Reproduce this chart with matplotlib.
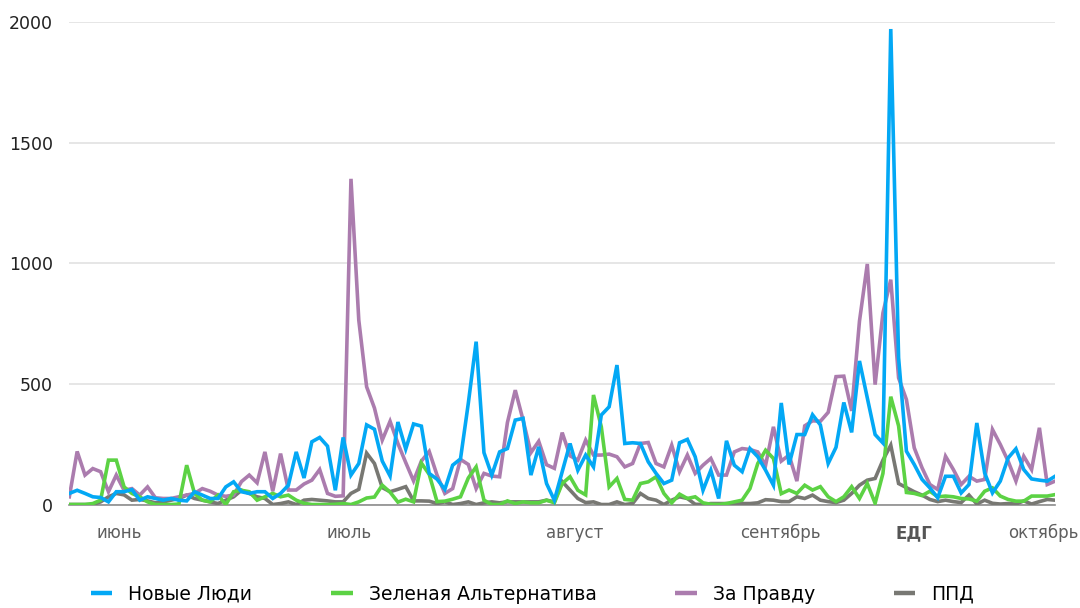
import numpy as np
import matplotlib
matplotlib.use("Agg")
import matplotlib.pyplot as plt

plt.rcParams['font.family'] = ['DejaVu Sans']

# daily values (index = day)
novye_lyudi = [46, 59, 46, 32, 29, 11, 53, 53, 62, 18, 32, 25, 18, 25, 18, 15, 53, 39, 25, 25,
               73, 94, 53, 46, 53, 53, 25, 46, 80, 218, 110, 260, 278, 242, 59, 278, 122, 170, 330, 312,
               180, 118, 342, 230, 334, 325, 129, 105, 63, 163, 189, 420, 675, 215, 122, 218, 232, 350, 357, 122,
               239, 87, 18, 136, 253, 142, 205, 156, 371, 405, 578, 253, 256, 253, 177, 129, 87, 101, 256, 270,
               198, 59, 142, 25, 264, 163, 136, 232, 198, 142, 80, 421, 166, 290, 290, 372, 330, 170, 237, 423,
               299, 595, 442, 290, 255, 1971, 608, 221, 166, 104, 69, 28, 117, 117, 48, 83, 338, 131, 48, 97,
               193, 231, 145, 106, 101, 97, 117]
zelenaya = [0, 0, 0, 4, 18, 184, 184, 73, 46, 32, 11, 0, 0, 0, 2, 163, 46, 18, 11, 39,
            0, 53, 59, 53, 18, 32, 46, 32, 39, 18, 5, 0, 0, 0, 1, 4, 0, 11, 27, 31,
            80, 51, 10, 22, 11, 172, 125, 12, 14, 22, 32, 110, 156, 18, 0, 0, 15, 4, 11, 7,
            7, 18, 7, 87, 115, 59, 40, 454, 322, 73, 108, 21, 18, 87, 94, 115, 46, 7, 43, 25,
            32, 7, 1, 0, 4, 11, 18, 66, 170, 225, 191, 45, 60, 46, 80, 60, 74, 32, 12, 32,
            74, 25, 87, 5, 129, 447, 326, 50, 46, 37, 55, 32, 35, 32, 25, 23, 14, 55, 69, 35,
            21, 14, 14, 35, 35, 35, 41]
za_pravdu = [32, 220, 122, 149, 136, 53, 122, 59, 66, 39, 73, 28, 25, 25, 32, 39, 46, 66, 55, 39,
             34, 39, 95, 122, 90, 218, 55, 211, 60, 60, 85, 101, 145, 46, 34, 36, 1350, 764, 488, 400,
             267, 345, 253, 174, 98, 180, 220, 122, 46, 66, 187, 166, 66, 129, 118, 115, 340, 474, 350, 215,
             262, 165, 150, 298, 202, 184, 267, 205, 205, 209, 198, 156, 170, 253, 257, 170, 156, 246, 136, 205,
             129, 163, 191, 122, 122, 218, 232, 228, 218, 163, 322, 180, 205, 97, 326, 347, 345, 382, 530, 532,
             388, 760, 997, 497, 794, 932, 525, 435, 235, 152, 83, 62, 200, 145, 83, 117, 97, 104, 311, 249,
             180, 97, 200, 145, 318, 83, 97]
ppd = [0, 0, 0, 0, 11, 32, 46, 40, 18, 21, 15, 7, 11, 18, 25, 39, 25, 18, 11, 4,
       18, 32, 59, 46, 32, 25, 0, 4, 11, 0, 18, 21, 18, 15, 11, 11, 46, 63, 213, 170,
       70, 53, 63, 74, 15, 15, 14, 4, 11, 0, 4, 11, 0, 7, 11, 7, 11, 11, 11, 11,
       11, 18, 11, 95, 60, 25, 8, 11, 0, 0, 11, 0, 4, 46, 25, 18, 0, 18, 32, 25,
       1, 0, 4, 4, 4, 4, 4, 4, 7, 20, 18, 12, 12, 32, 25, 39, 18, 12, 8, 18,
       46, 80, 101, 108, 184, 246, 87, 70, 53, 39, 21, 12, 18, 12, 8, 39, 2, 18, 5, 2,
       4, 2, 15, 2, 12, 21, 18]

month_labels = ["июнь", "июль", "август", "сентябрь", "ЕДГ", "октябрь"]
month_pos = [6.4, 35.8, 64.6, 90.9, 108.0, 124.5]

series = [
    ("ППД", ppd, "#787873"),
    ("За Правду", za_pravdu, "#ab7cae"),
    ("Зеленая Альтернатива", zelenaya, "#5cd244"),
    ("Новые Люди", novye_lyudi, "#03a8f5"),
]

fig = plt.figure(figsize=(10.8, 6.08), dpi=100)
ax = fig.add_axes([0.0642, 0.1702, 0.9127, 0.7936])

x = np.arange(len(novye_lyudi))
lines = {}
for name, vals, col in series:
    ln, = ax.plot(x, vals, color=col, lw=2.6, solid_joinstyle='miter', label=name)
    lines[name] = ln

ax.set_xlim(0, len(x) - 1)
ax.set_ylim(0, 2000)
ax.set_yticks([0, 500, 1000, 1500, 2000])
ax.grid(axis='y', color='#e2e2e2', lw=1.2)
ax.set_axisbelow(True)
for s in ['top', 'right', 'left']:
    ax.spines[s].set_visible(False)
ax.spines['bottom'].set_color('#8c8c8c')
ax.spines['bottom'].set_linewidth(1.2)
ax.spines['bottom'].set_zorder(1)

ax.tick_params(axis='y', length=0, pad=12, labelsize=12.5, labelcolor='#222222')
ax.set_xticks(month_pos)
ax.set_xticklabels(month_labels)
ax.tick_params(axis='x', length=0, pad=14, labelsize=12, labelcolor='#5f5f5f')
for t in ax.get_xticklabels():
    if t.get_text() == "ЕДГ":
        t.set_fontweight('bold')
        t.set_color('#555555')

order = ["Новые Люди", "Зеленая Альтернатива", "За Правду", "ППД"]
leg = fig.legend([lines[n] for n in order], order, loc='center', ncol=4,
                 bbox_to_anchor=(0.493, 0.023), frameon=False, fontsize=13.5,
                 handlelength=1.15, handletextpad=0.85, columnspacing=4.2)
for h in leg.get_lines():
    h.set_linewidth(3.2)
    h.set_solid_capstyle('butt')

fig.savefig("out.png", dpi=100)
